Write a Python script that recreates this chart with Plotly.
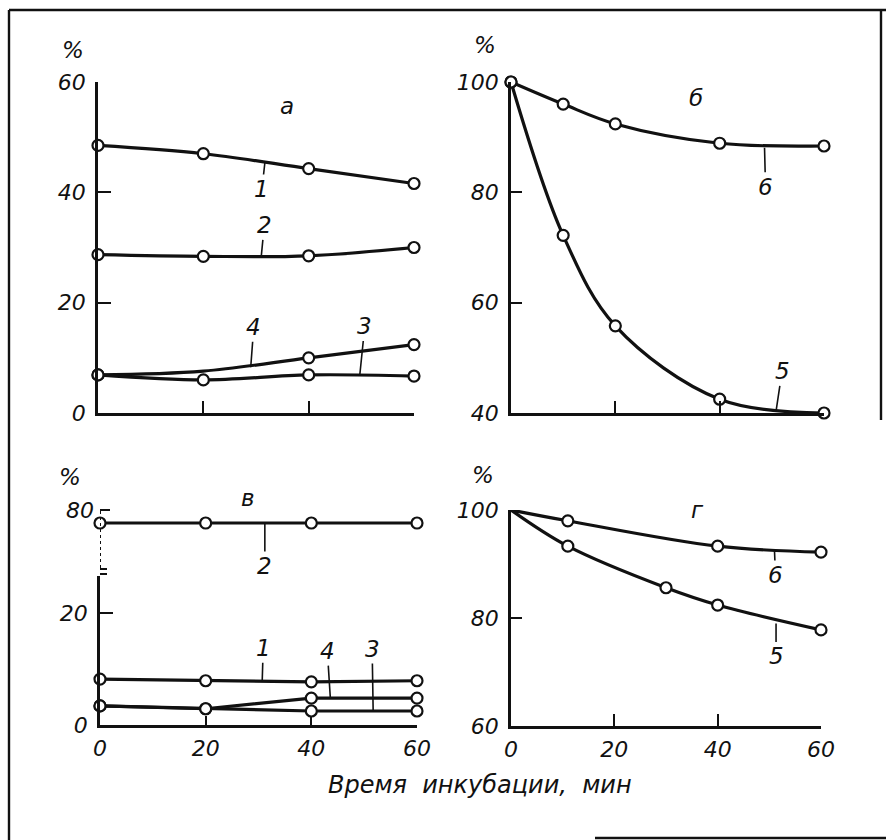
import plotly.graph_objects as go

# ---------------- data ----------------
# Panel а
time_a = [0, 20, 40, 60]
a_curve1 = [48.5, 47.0, 44.3, 41.6]
a_curve2 = [28.7, 28.4, 28.5, 30.0]
a_curve3 = [6.9, 6.0, 6.9, 6.7]
a_curve4 = [6.9, 7.6, 10.0, 12.4]      # no circle drawn at 20 min
a_curve4_marked = [True, False, True, True]

# Panel б
time_b = [0, 10, 20, 40, 60]
b_curve5 = [100, 72.2, 55.8, 42.5, 40.0]
b_curve6 = [100, 96.0, 92.4, 88.9, 88.4]

# Panel в
time_v = [0, 20, 40, 60]
v_curve1 = [8.2, 7.9, 7.7, 7.9]
v_curve2 = [78, 78, 78, 78]
v_curve3 = [3.4, 2.9, 2.5, 2.5]
v_curve4 = [3.4, 2.9, 4.8, 4.8]

# Panel г
time_g6 = [0, 11, 40, 60]
g_curve6 = [100, 98.0, 93.3, 92.2]
time_g5 = [0, 11, 30, 40, 60]
g_curve5 = [100, 93.3, 85.6, 82.4, 77.8]

x_ticks = [0, 20, 40, 60]
x_title = "Время\u00a0\u00a0инкубации,\u00a0\u00a0мин"
panel_letters = ["а", "б", "в", "г"]

# ---------------- styling ----------------
W, H = 886, 840
FONT = "DejaVu Sans"
BLACK = "#111111"
MS = 11


def px(x):
    return x / W


def py(y):
    return 1 - y / H


fig = go.Figure()


def add_curve(x, y, xa, ya, shape="spline", marked=None):
    sizes = [MS if m else 0 for m in marked] if marked else MS
    fig.add_trace(go.Scatter(
        x=x, y=y, xaxis=xa, yaxis=ya, mode="lines+markers",
        line=dict(color=BLACK, width=3.2, shape=shape, smoothing=1.0),
        marker=dict(symbol="circle", size=sizes, opacity=1,
                    color="white", line=dict(color=BLACK, width=2.2)),
        cliponaxis=False, hoverinfo="skip"))


# Panel а
add_curve(time_a, a_curve1, "x", "y")
add_curve(time_a, a_curve2, "x", "y")
add_curve(time_a, a_curve4, "x", "y", marked=a_curve4_marked)
add_curve(time_a, a_curve3, "x", "y")
# Panel б
add_curve(time_b, b_curve6, "x2", "y2")
add_curve(time_b, b_curve5, "x2", "y2")
# Panel в
add_curve(time_v, v_curve2, "x3", "y5", shape="linear")
add_curve(time_v, v_curve1, "x3", "y3", shape="linear")
add_curve(time_v, v_curve4, "x3", "y3", shape="linear")
add_curve(time_v, v_curve3, "x3", "y3", shape="linear")
# Panel г (no circle at the origin)
add_curve(time_g6, g_curve6, "x4", "y4", marked=[False] + [True] * (len(time_g6) - 1))
add_curve(time_g5, g_curve5, "x4", "y4", marked=[False] + [True] * (len(time_g5) - 1))

tickfont = dict(family=FONT, size=22, color=BLACK, style="italic")
axis_common = dict(showline=True, linecolor=BLACK, linewidth=2.6, mirror=False,
                   showgrid=False, zeroline=False, ticks="inside", automargin=False,
                   tickcolor=BLACK, tickwidth=2, tickfont=tickfont)

fig.update_layout(
    width=W, height=H, margin=dict(l=0, r=0, t=0, b=0, pad=0, autoexpand=False),
    paper_bgcolor="white", plot_bgcolor="white", showlegend=False,
    xaxis=dict(domain=[px(98), px(414)], range=[0, 60], anchor="y",
               tickvals=x_ticks, ticklen=12, showticklabels=False, **axis_common),
    yaxis=dict(domain=[py(413), py(82)], range=[0, 60], anchor="x",
               tickvals=[0, 20, 40, 60], ticklen=13, ticklabelstandoff=5, **axis_common),
    xaxis2=dict(domain=[px(511), px(824)], range=[0, 60], anchor="y2",
                tickvals=x_ticks, ticklen=12, showticklabels=False, **axis_common),
    yaxis2=dict(domain=[py(413), py(82)], range=[40, 100], anchor="x2",
                tickvals=[40, 60, 80, 100], ticklen=11, ticklabelstandoff=5, **axis_common),
    xaxis3=dict(domain=[px(100), px(417)], range=[0, 60], anchor="y3",
                tickvals=x_ticks, ticklen=9, ticklabelstandoff=2, **axis_common),
    yaxis3=dict(domain=[py(725), py(576)], range=[0, 26.6], anchor="x3",
                tickvals=[0, 20], ticklen=13, ticklabelstandoff=5, **axis_common),
    yaxis5=dict(domain=[py(566), py(507)], range=[71.4, 80.46], anchor="x3",
                tickvals=[80], ticklen=10, ticklabelstandoff=5,
                **{**axis_common, "showline": False}),
    xaxis4=dict(domain=[px(511), px(821)], range=[0, 60], anchor="y4",
                tickvals=x_ticks, ticklen=12, ticklabelstandoff=2, **axis_common),
    yaxis4=dict(domain=[py(726), py(510)], range=[60, 100], anchor="x4",
                tickvals=[60, 80, 100], ticklen=11, ticklabelstandoff=5, **axis_common),
)

# ---------------- curve labels with leader lines ----------------
lab_font = dict(family=FONT, size=23, color=BLACK, style="italic")


def label(text, x, y, xa, ya, ax, ay):
    fig.add_annotation(text=text, x=x, y=y, xref=xa, yref=ya, showarrow=True,
                       arrowhead=0, arrowwidth=1.6, arrowcolor=BLACK,
                       ax=ax, ay=ay, font=lab_font, standoff=0, startstandoff=0)


label("1", 31.7, 45.5, "x", "y", -3, 27)
label("2", 31.0, 28.4, "x", "y", 3, -31)
label("4", 29.0, 8.3, "x", "y", 3, -40)
label("3", 49.7, 6.8, "x", "y", 5, -49)
label("6", 48.6, 88.1, "x2", "y2", 1, 39)
label("5", 50.8, 40.3, "x2", "y2", 6, -40)
label("2", 31.2, 78, "x3", "y5", 0, 43)
label("1", 30.7, 7.8, "x3", "y3", 1, -33)
label("4", 43.6, 4.8, "x3", "y3", -3, -47)
label("3", 51.7, 2.5, "x3", "y3", -1, -62)
label("6", 51.0, 92.4, "x4", "y4", 1, 24)
label("5", 51.3, 79.0, "x4", "y4", 0, 33)

# ---------------- text in paper coordinates ----------------
big = dict(family=FONT, size=23, color=BLACK, style="italic")


def paper_text(t, x, y, font):
    fig.add_annotation(text=t, x=px(x), y=py(y), xref="paper", yref="paper",
                       xanchor="center", yanchor="middle", showarrow=False, font=font)


for (x, y) in [(73, 50), (485, 45), (70, 477), (483, 475)]:
    paper_text("%", x, y, big)
for t, (x, y) in zip(panel_letters, [(287, 106), (696, 98), (248, 498), (697, 510)]):
    paper_text(t, x, y, big)
paper_text(x_title, 480, 785, dict(family=FONT, size=24, color=BLACK, style="italic"))

# ---------------- frame and axis break ----------------
frame = dict(color=BLACK, width=2.4)
fig.add_shape(type="line", xref="paper", yref="paper", x0=px(9), x1=px(886), y0=py(10), y1=py(10), line=frame)
fig.add_shape(type="line", xref="paper", yref="paper", x0=px(9), x1=px(9), y0=py(10), y1=py(840), line=frame)
fig.add_shape(type="line", xref="paper", yref="paper", x0=px(881), x1=px(881), y0=py(10), y1=py(420), line=frame)
fig.add_shape(type="line", xref="paper", yref="paper", x0=px(595), x1=px(886), y0=py(838), y1=py(838), line=frame)
# dotted part of the broken axis in panel в
fig.add_shape(type="line", xref="x3", yref="paper", x0=0, x1=0, y0=py(568), y1=py(509),
              line=dict(color=BLACK, width=2, dash="dot"))
for yb in (569, 574):
    fig.add_shape(type="line", xref="x3", xsizemode="pixel", xanchor=0, x0=-7, x1=7,
                  yref="paper", y0=py(yb), y1=py(yb), line=dict(color=BLACK, width=2))

fig.write_html("out.html", config={"displayModeBar": False},
               post_script="document.body.style.margin='0px';")
